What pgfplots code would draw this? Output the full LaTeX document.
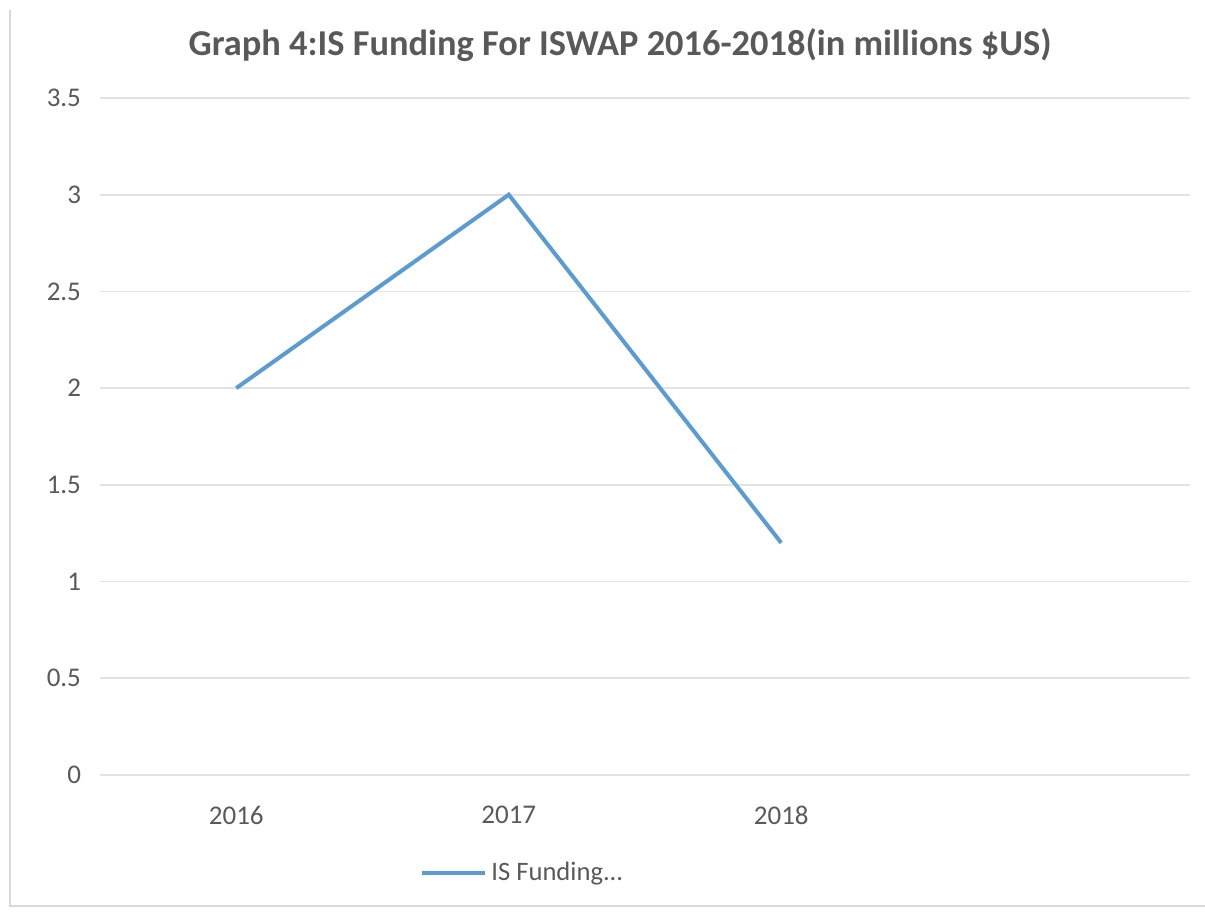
\documentclass[border=0pt]{standalone}
\usepackage{fontspec}
\setmainfont{Carlito}
\usepackage{pgfplots}
\pgfplotsset{compat=1.18}
\definecolor{txt}{HTML}{595959}
\definecolor{gridc}{HTML}{E3E3E3}
\definecolor{excelblue}{HTML}{5B9BD5}
\begin{document}
\begin{tikzpicture}[x=1pt,y=1pt]
\path[use as bounding box] (0,0) rectangle (602.5,458);
\draw[gray!30, line width=0.6pt] (5,453) -- (5,5) -- (602.5,5);
\node[text=txt, font=\fontsize{18.2}{21}\selectfont\bfseries] at (310,435.5) {Graph 4:IS Funding For ISWAP 2016-2018(in millions \$US)};
\begin{axis}[
  at={(50pt,70.5pt)}, anchor=south west,
  scale only axis,
  width=545pt, height=338.5pt,
  xmin=-0.5, xmax=3.5,
  ymin=0, ymax=3.5,
  xtick={0,1,2}, xticklabels={2016,2017,2018},
  ytick={0,0.5,1,1.5,2,2.5,3,3.5},
  yticklabels={0,0.5,1,1.5,2,2.5,3,3.5},
  axis line style={draw=none},
  xmajorgrids=false, ymajorgrids=true,
  grid style={draw=gridc, line width=0.8pt},
  major tick length=0pt,
  tick style={draw=none},
  tick label style={text=txt, font=\fontsize{13.5}{16}\selectfont},
  xticklabel style={yshift=-12pt},
  yticklabel style={xshift=-6pt},
  legend style={at={(0.2936,-0.145)}, anchor=west, draw=none, fill=none,
    font=\fontsize{13.3}{16}\selectfont, text=txt, inner sep=0pt},
  legend image code/.code={\draw[#1] (0pt,0pt) -- (31.5pt,0pt);},
]
\addplot[excelblue, line width=2pt] coordinates {(0,2) (1,3) (2,1.2)};
\addlegendentry{IS Funding...}
\end{axis}
\end{tikzpicture}
\end{document}
